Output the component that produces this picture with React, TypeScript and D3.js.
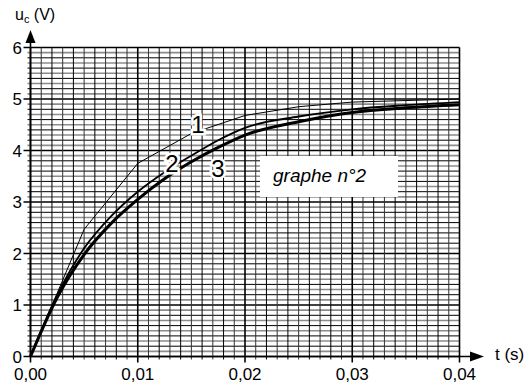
import React from "react";
import * as d3 from "d3";

// ---- data ----
const xTicks = [0, 0.01, 0.02, 0.03, 0.04];
const xTickLabels = ["0,00", "0,01", "0,02", "0,03", "0,04"];
const yTicks = [0, 1, 2, 3, 4, 5, 6];
const yTickLabels = ["0", "1", "2", "3", "4", "5", "6"];

const curve1T = [0, 0.005, 0.01, 0.015, 0.02, 0.025, 0.03, 0.035, 0.04];
const curve1U = [0, 2.47, 3.75, 4.33, 4.68, 4.85, 4.94, 4.97, 5.0];

const curve2T = [0, 0.0025, 0.005, 0.0075, 0.01, 0.0125, 0.015, 0.0175, 0.02, 0.025, 0.03, 0.035, 0.04];
const curve2U = [0, 1.2, 2.1, 2.72, 3.2, 3.58, 3.9, 4.2, 4.44, 4.66, 4.8, 4.88, 4.94];

const curve3T = [0, 0.0025, 0.005, 0.0075, 0.01, 0.0125, 0.015, 0.0175, 0.02, 0.025, 0.03, 0.035, 0.04];
const curve3U = [0, 1.15, 1.98, 2.58, 3.05, 3.45, 3.78, 4.06, 4.3, 4.56, 4.74, 4.83, 4.89];

const curveLabels = ["1", "2", "3"];
const boxLabel = "graphe n°2";

const W = 531;
const H = 389;
const FONT = "'Liberation Sans', Arial, Helvetica, sans-serif";

export default function App() {
  const x = d3.scaleLinear().domain([0, 0.04]).range([30.5, 459.5]);
  const y = d3.scaleLinear().domain([0, 6]).range([356.5, 47.5]);

  const vLines = d3.range(0, 41).map((i) => i);
  const hLines = d3.range(0, 61).map((i) => i);

  const line = (curve: d3.CurveFactory) =>
    d3
      .line<[number, number]>()
      .x((d) => x(d[0]))
      .y((d) => y(d[1]))
      .curve(curve);

  const c1 = curve1T.map((t, i) => [t, curve1U[i]] as [number, number]);
  const c2 = curve2T.map((t, i) => [t, curve2U[i]] as [number, number]);
  const c3 = curve3T.map((t, i) => [t, curve3U[i]] as [number, number]);

  const x0 = x(0);
  const y0 = y(0);

  return (
    <svg
      width={W}
      height={H}
      style={{ position: "absolute", left: 0, top: 0, background: "#fff" }}
      fontFamily={FONT}
    >
      <rect x={0} y={0} width={W} height={H} fill="#fff" />
      {/* horizontal grid */}
      {hLines.map((i) => {
        const yy = y(i * 0.1);
        const major = i % 10 === 0;
        const even = i % 2 === 0;
        return (
          <line
            key={"h" + i}
            x1={x0 - (major ? 7 : 3)}
            x2={x(0.04)}
            y1={yy}
            y2={yy}
            stroke={even ? "#000" : "#8c8c8c"}
            strokeWidth={major ? 1.6 : even ? 1 : 1.6}
          />
        );
      })}
      {/* vertical grid */}
      {vLines.map((i) => {
        const xx = x(i * 0.001);
        const major = i % 10 === 0;
        return (
          <line
            key={"v" + i}
            x1={xx}
            x2={xx}
            y1={y(6)}
            y2={y0 + (major ? 6 : 3)}
            stroke={i % 2 === 0 ? "#000" : "#333"}
            strokeWidth={major ? 1.6 : 1}
          />
        );
      })}

      {/* label box */}
      <rect x={260} y={156} width={138} height={41} fill="#fff" />
      <text x={273} y={182} fontSize={19} fontStyle="italic" fill="#000">
        {boxLabel}
      </text>

      {/* curves */}
      <path d={line(d3.curveLinear)(c1) || ""} fill="none" stroke="#000" strokeWidth={1} />
      <path d={line(d3.curveMonotoneX)(c2) || ""} fill="none" stroke="#000" strokeWidth={1.8} />
      <path d={line(d3.curveMonotoneX)(c3) || ""} fill="none" stroke="#000" strokeWidth={3} />

      {/* curve labels with white knockout */}
      {curveLabels.map((lab, i) => {
        const pos = [
          [198, 133],
          [172, 172],
          [218, 177],
        ][i];
        return (
          <text
            key={lab}
            x={pos[0]}
            y={pos[1]}
            fontSize={24}
            textAnchor="middle"
            fill="#000"
            stroke="#fff"
            strokeWidth={5}
            paintOrder="stroke"
          >
            {lab}
          </text>
        );
      })}

      {/* axes */}
      <line x1={x0} x2={x0} y1={y0} y2={40} stroke="#000" strokeWidth={1.6} />
      <path d={`M${x0},30 L${x0 - 5},43 L${x0 + 5},43 Z`} fill="#000" />
      <line x1={x0} x2={472} y1={y0} y2={y0} stroke="#000" strokeWidth={1.6} />
      <path d={`M484,${y0} L470,${y0 - 5} L470,${y0 + 5} Z`} fill="#000" />

      {/* tick labels */}
      {yTicks.map((v, i) => (
        <text key={"yl" + v} x={22} y={y(v) + 6} fontSize={17} textAnchor="end" fill="#000">
          {yTickLabels[i]}
        </text>
      ))}
      {xTicks.map((v, i) => (
        <text key={"xl" + v} x={x(v)} y={380} fontSize={17} textAnchor="middle" fill="#000">
          {xTickLabels[i]}
        </text>
      ))}

      {/* axis titles */}
      <text x={15} y={20} fontSize={16} fill="#000">
        u
        <tspan fontSize={11} dy={3}>c</tspan>
        <tspan dy={-3}> (V)</tspan>
      </text>
      <text x={495} y={360} fontSize={17} fill="#000">
        t (s)
      </text>
    </svg>
  );
}
